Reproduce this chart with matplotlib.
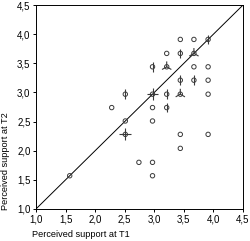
#!/usr/bin/env python3

import matplotlib

matplotlib.use("Agg")

import matplotlib.pyplot as plt
import numpy as np
from matplotlib.path import Path

# sunflower plot data: T1 score, T2 score, number of cases at that point
t1 = [1.57, 2.28, 2.51, 2.51, 2.51, 2.74, 2.97, 2.97, 2.97, 2.97, 2.97, 2.97,
      3.21, 3.21, 3.21, 3.21, 3.44, 3.44, 3.44, 3.44, 3.44, 3.44,
      3.67, 3.67, 3.67, 3.67, 3.91, 3.91, 3.91, 3.91, 3.91]
t2 = [1.57, 2.74, 2.28, 2.51, 2.97, 1.80, 1.57, 1.80, 2.51, 2.74, 2.97, 3.44,
      2.74, 2.97, 3.44, 3.67, 2.04, 2.28, 2.97, 3.21, 3.67, 3.91,
      3.21, 3.44, 3.67, 3.91, 2.28, 2.97, 3.21, 3.44, 3.91]
counts = [1, 1, 4, 1, 2, 1, 1, 1, 1, 1, 4, 2,
          2, 2, 3, 1, 1, 1, 3, 2, 2, 1,
          2, 1, 3, 1, 1, 1, 1, 1, 2]
ticks = [1.0, 1.5, 2.0, 2.5, 3.0, 3.5, 4.0, 4.5]
tick_labels = ["1,0", "1,5", "2,0", "2,5", "3,0", "3,5", "4,0", "4,5"]


def petal_marker(n):
    verts = []
    codes = []
    for k in range(n):
        angle = np.pi / 2 + 2 * np.pi * k / n
        verts += [(0, 0), (np.cos(angle), np.sin(angle))]
        codes += [Path.MOVETO, Path.LINETO]
    return Path(verts, codes)


plt.rcParams["font.family"] = ["Liberation Sans", "DejaVu Sans"]

fig = plt.figure(figsize=(2.5, 2.41), dpi=100)
ax = fig.add_axes([0.144, 0.133, 0.828, 0.846])

ax.plot([1.0, 4.5], [1.0, 4.5], color="black", linewidth=0.7)

x = np.array(t1)
y = np.array(t2)
c = np.array(counts)

ax.scatter(x, y, s=10, facecolors="none", edgecolors="#3a3a3a", linewidths=0.7, zorder=3)
petal_sizes = {2: 50, 3: 60, 4: 72}
for n, size in petal_sizes.items():
    mask = c == n
    ax.scatter(x[mask], y[mask], marker=petal_marker(n), s=size,
               facecolors="none", edgecolors="#3a3a3a", linewidths=0.8, zorder=4)

ax.set_xlim(1.0, 4.5)
ax.set_ylim(1.0, 4.5)
ax.set_xticks(ticks)
ax.set_xticklabels(tick_labels)
ax.set_yticks(ticks)
ax.set_yticklabels(tick_labels)
ax.tick_params(direction="out", length=2.5, width=0.7, labelsize=7, pad=1.5)
for spine in ax.spines.values():
    spine.set_linewidth(0.7)

fig.text(0.13, 0.008, "Perceived support at T1", fontsize=6.6, ha="left", va="bottom")
fig.text(0.005, 0.13, "Perceived support at T2", fontsize=6.6, rotation=90,
         ha="left", va="bottom")

fig.savefig("out.png", dpi=100)
